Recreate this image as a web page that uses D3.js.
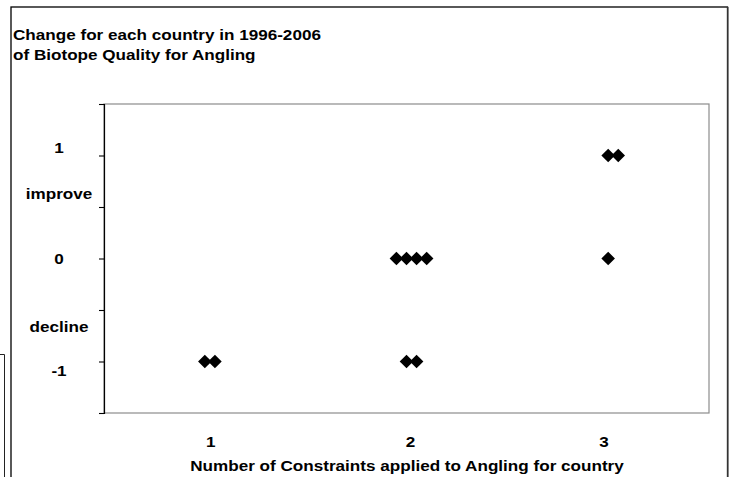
<!DOCTYPE html>
<html>
<head>
<meta charset="utf-8">
<script src="https://cdn.jsdelivr.net/npm/d3@7"></script>
<style>
  html, body { margin: 0; padding: 0; background: #fff; }
  svg { display: block; }
  text { font-family: "Liberation Sans", Arial, sans-serif; font-weight: bold; fill: #000; }
</style>
</head>
<body>
<svg id="chart" width="734" height="477"></svg>
<script>
// ---- data ----
const titleLines = ["Change for each country in 1996-2006", "of Biotope Quality for Angling"];
const xAxisTitle = "Number of Constraints applied to Angling for country";
const xValues = [1.0, 1.05, 1.95, 2.0, 2.05, 2.1, 2.0, 2.05, 3.0, 3.05, 3.0];
const yValues = [-1, -1, 0, 0, 0, 0, -1, -1, 1, 1, 0];
const xDomain = [0.5, 3.5];
const yDomain = [-1.5, 1.5];
const yTickValues = [-1.5, -1, -0.5, 0, 0.5, 1, 1.5];
const yLabelTexts = ["1", "improve", "0", "decline", "-1"];
const yLabelValues = [1.08, 0.63, 0, -0.66, -1.09];
const xLabelTexts = ["1", "2", "3"];
const xLabelValues = [1.03, 2.02, 2.98];

// ---- layout ----
const svg = d3.select("#chart");
const plot = { left: 104, top: 104, right: 709, bottom: 413 };
const stretch = 1.14;

const x = d3.scaleLinear().domain(xDomain).range([plot.left, plot.right]);
const y = d3.scaleLinear().domain(yDomain).range([plot.bottom, plot.top]);

function stretchText(sel) {
  sel.each(function () {
    const w = this.getComputedTextLength();
    d3.select(this).attr("textLength", w * stretch).attr("lengthAdjust", "spacingAndGlyphs");
  });
}

// outer chart border
svg.append("rect")
  .attr("x", 11).attr("y", 7)
  .attr("width", 716.5).attr("height", 500)
  .attr("fill", "none").attr("stroke", "#000").attr("stroke-width", 1.3);
svg.append("rect")
  .attr("x", 727).attr("y", 7).attr("width", 1.5).attr("height", 470)
  .attr("fill", "#333");

// fragment of neighbouring box at left
svg.append("path")
  .attr("d", "M0,354.5 H4.5 V480")
  .attr("fill", "none").attr("stroke", "#222").attr("stroke-width", 1);

// plot area border (gray)
svg.append("rect")
  .attr("x", plot.left).attr("y", plot.top)
  .attr("width", plot.right - plot.left).attr("height", plot.bottom - plot.top)
  .attr("fill", "none").attr("stroke", "#8c8c8c").attr("stroke-width", 1.2);

// y axis
const yAxis = d3.axisLeft(y).tickValues(yTickValues).tickSize(5).tickFormat("");
const gy = svg.append("g").attr("transform", `translate(${plot.left},0)`).call(yAxis);
gy.select(".domain").attr("stroke", "#000").attr("stroke-width", 1.2);
gy.selectAll(".tick line").attr("stroke", "#000").attr("stroke-width", 1.1);

// title
svg.selectAll("text.title").data(titleLines).join("text")
  .attr("class", "title")
  .attr("x", 13)
  .attr("y", (d, i) => 39.5 + i * 20.7)
  .style("font-size", "15px")
  .text(d => d)
  .call(stretchText);

// y labels
svg.selectAll("text.ylab").data(yLabelTexts).join("text")
  .attr("class", "ylab")
  .attr("x", 59)
  .attr("y", (d, i) => y(yLabelValues[i]))
  .attr("dy", "0.36em")
  .attr("text-anchor", "middle")
  .style("font-size", "15px")
  .text(d => d)
  .call(stretchText);

// x labels
svg.selectAll("text.xlab").data(xLabelTexts).join("text")
  .attr("class", "xlab")
  .attr("x", (d, i) => x(xLabelValues[i]))
  .attr("y", 446.5)
  .attr("text-anchor", "middle")
  .style("font-size", "15px")
  .text(d => d)
  .call(stretchText);

// x axis title
svg.append("text")
  .attr("x", 407).attr("y", 470.5)
  .attr("text-anchor", "middle")
  .style("font-size", "15px")
  .text(xAxisTitle)
  .call(stretchText);

// points (diamonds)
const diamond = d3.symbol().type(d3.symbolSquare).size(92);
svg.append("g").selectAll("path").data(xValues).join("path")
  .attr("d", diamond)
  .attr("transform", (d, i) => `translate(${x(d)},${y(yValues[i])}) rotate(45)`)
  .attr("fill", "#000");
</script>
</body>
</html>
